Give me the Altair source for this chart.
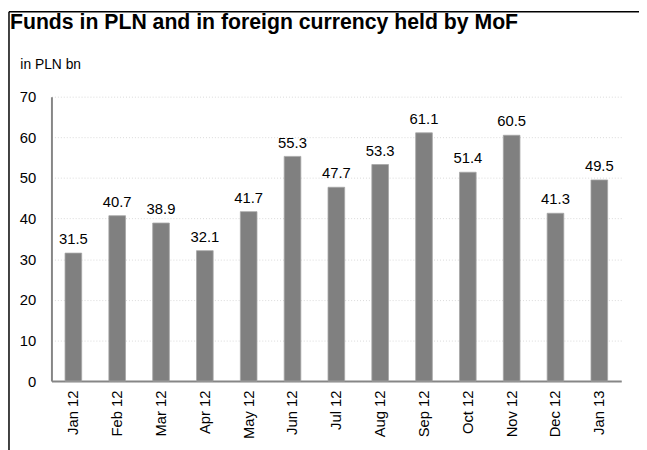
import altair as alt
import pandas as pd

months = ["Jan 12", "Feb 12", "Mar 12", "Apr 12", "May 12", "Jun 12", "Jul 12",
          "Aug 12", "Sep 12", "Oct 12", "Nov 12", "Dec 12", "Jan 13"]
values = [31.5, 40.7, 38.9, 32.1, 41.7, 55.3, 47.7, 53.3, 61.1, 51.4, 60.5, 41.3, 49.5]
title_text = "Funds in PLN and in foreign currency held by MoF"

df = pd.DataFrame({"month": months, "value": values})
FONT = "Liberation Sans"

x = alt.X("month:N", sort=months, title=None,
          scale=alt.Scale(paddingInner=0.62, paddingOuter=0.31),
          axis=alt.Axis(labelAngle=-90, labelFontSize=15, labelFont=FONT,
                        labelColor="black", labelPadding=9, ticks=False,
                        domainColor="#868686", domainWidth=2, grid=False))
y = alt.Y("value:Q", title="in PLN bn",
          scale=alt.Scale(domain=[0, 70], nice=False),
          axis=alt.Axis(values=[0, 10, 20, 30, 40, 50, 60, 70], labelFontSize=15,
                        labelFont=FONT, labelColor="black", labelPadding=16,
                        ticks=False, domainColor="#868686", domainWidth=2,
                        gridColor="#d9d9d9", gridDash=[1, 2], gridWidth=1,
                        titleAngle=0, titleAlign="left", titleBaseline="alphabetic",
                        titleX=-32, titleY=-29, titleFont=FONT, titleFontSize=14,
                        titleFontWeight="normal", titleColor="black"))

bars = alt.Chart(df).mark_bar(color="#808080", stroke="#a6a6a6", strokeWidth=0.8).encode(x=x, y=y)
labels = alt.Chart(df).mark_text(baseline="bottom", dy=-6, fontSize=15, font=FONT,
                                 color="black").encode(
    x=alt.X("month:N", sort=months), y="value:Q", text=alt.Text("value:Q", format=".1f"))

one = df.head(1)
frame_top = alt.Chart(one).mark_rule(color="black", strokeWidth=1.5).encode(
    x=alt.value(-43), x2=alt.value(600), y=alt.value(-86))
frame_left = alt.Chart(one).mark_rule(color="black", strokeWidth=1.5).encode(
    x=alt.value(-43), y=alt.value(-86), y2=alt.value(360))
title = alt.Chart(one).mark_text(align="left", baseline="alphabetic", font=FONT,
                                 fontSize=21.5, fontWeight="bold", color="black").encode(
    x=alt.value(-42), y=alt.value(-69), text=alt.value(title_text))

chart = alt.layer(bars, labels, frame_top, frame_left, title).properties(
    width=577, height=288,
    autosize=alt.AutoSizeParams(type="none"),
    padding={"left": 44, "top": 87, "right": 18, "bottom": 67},
).configure_view(stroke=None)

chart.save("out.html", embed_options={"renderer": "svg", "actions": False})
